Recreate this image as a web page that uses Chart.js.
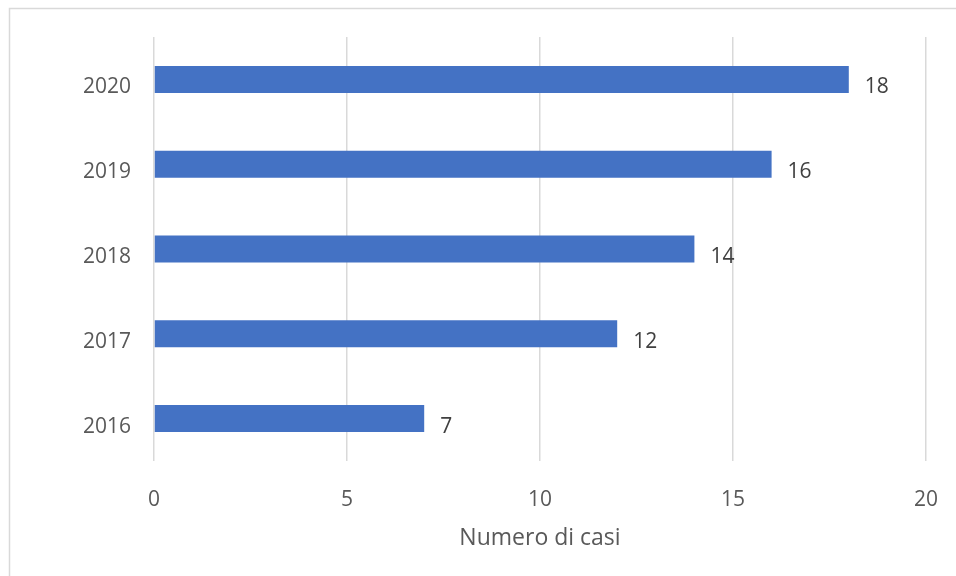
<!DOCTYPE html>
<html>
<head>
<meta charset="utf-8">
<script src="https://cdn.jsdelivr.net/npm/chart.js@4/dist/chart.umd.min.js"></script>
<style>
  html, body { margin: 0; padding: 0; background: #ffffff; }
  #wrap { width: 956px; height: 576px; position: relative; }
</style>
</head>
<body>
<div id="wrap"><canvas id="c" width="956" height="576"></canvas></div>
<script>
// Cases per year
const years = ['2016', '2017', '2018', '2019', '2020'];
const cases = [7, 12, 14, 16, 18];
const xTicks = [0, 5, 10, 15, 20];
const axisTitle = 'Numero di casi';

const FONT = "'Open Sans', 'Liberation Sans', sans-serif";

// White background and the outer frame of the chart
const frame = {
  id: 'frame',
  beforeDraw(chart) {
    const ctx = chart.ctx;
    ctx.save();
    ctx.fillStyle = '#ffffff';
    ctx.fillRect(0, 0, chart.width, chart.height);
    ctx.strokeStyle = '#d9d9d9';
    ctx.lineWidth = 1.5;
    ctx.beginPath();
    ctx.moveTo(9.5, chart.height);
    ctx.lineTo(9.5, 8.5);
    ctx.lineTo(chart.width, 8.5);
    ctx.stroke();
    ctx.restore();
  }
};

// Value labels to the right of each bar
const valueLabels = {
  id: 'valueLabels',
  afterDatasetsDraw(chart) {
    const ctx = chart.ctx;
    const meta = chart.getDatasetMeta(0);
    ctx.save();
    ctx.font = '21px ' + FONT;
    ctx.fillStyle = '#404040';
    ctx.textAlign = 'left';
    ctx.textBaseline = 'middle';
    meta.data.forEach((bar, i) => {
      ctx.fillText(String(chart.data.datasets[0].data[i]), bar.x + 16, bar.y + 8);
    });
    ctx.restore();
  }
};

new Chart(document.getElementById('c'), {
  type: 'bar',
  data: {
    labels: years,
    datasets: [{
      data: cases,
      backgroundColor: '#4472C4',
      borderWidth: 0,
      barPercentage: 0.318,
      categoryPercentage: 1.0
    }]
  },
  options: {
    indexAxis: 'y',
    responsive: false,
    animation: false,
    devicePixelRatio: 1,
    layout: { padding: { left: 0, right: 30, top: 37, bottom: 0 } },
    plugins: { legend: { display: false }, tooltip: { enabled: false } },
    scales: {
      x: {
        min: 0,
        max: 20,
        afterBuildTicks(scale) { scale.ticks = xTicks.map(v => ({ value: v })); },
        afterFit(scale) {
          scale.height = 115;
          scale.paddingLeft = 0;
          scale.paddingRight = 0;
        },
        grid: { color: '#d9d9d9', lineWidth: 1.5, drawTicks: false },
        border: { display: false },
        ticks: {
          padding: 26,
          color: '#595959',
          font: { family: FONT, size: 21 }
        },
        title: {
          display: true,
          text: axisTitle,
          color: '#595959',
          font: { family: FONT, size: 23 },
          padding: { top: 0, bottom: 24 }
        }
      },
      y: {
        reverse: true,
        afterFit(scale) { scale.width = 154; },
        grid: { display: false, drawTicks: false },
        border: { display: false },
        ticks: {
          padding: 23,
          labelOffset: 8,
          color: '#595959',
          font: { family: FONT, size: 21 }
        }
      }
    }
  },
  plugins: [frame, valueLabels]
});
</script>
</body>
</html>
